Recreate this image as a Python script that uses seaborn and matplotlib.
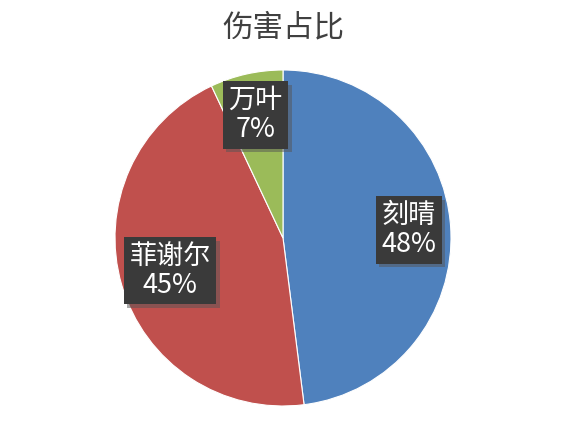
import matplotlib
matplotlib.use("Agg")
import matplotlib.pyplot as plt
import seaborn as sns
import matplotlib.patheffects as pe

names = ["刻晴", "菲谢尔", "万叶"]
shares = [48, 45, 7]
colors = ["#4f81bd", "#c0504d", "#9bbb59"]
label_dist = [0.75, 0.70, 0.75]
title = "伤害占比"

sns.set_theme(style="white")
plt.rcParams['font.family'] = ['Noto Sans CJK SC', 'DejaVu Sans']

W, H = 565, 423
fig = plt.figure(figsize=(W / 100, H / 100), dpi=100)
fig.patch.set_facecolor("white")
R = 168
cx, cy = 283, H - 238
ax = fig.add_axes([(cx - R) / W, (cy - R) / H, 2 * R / W, 2 * R / H])

base = 0.75
wedges, texts, autotexts = ax.pie(
    shares, colors=colors, startangle=90, counterclock=False,
    autopct="%1.0f%%", pctdistance=base, radius=1.0,
    wedgeprops=dict(edgecolor="white", linewidth=0.8),
)
for t, name, val, d in zip(autotexts, names, shares, label_dist):
    x, y = t.get_position()
    t.set_position((x * d / base, y * d / base))
    t.set_text(f"{name}\n{val}%")
    t.set_color("white")
    t.set_fontsize(19.5)
    t.set_ha("center")
    t.set_va("center")
    t.set_linespacing(1.12)
    t.set_bbox(dict(boxstyle="square,pad=0.2", facecolor="#3a3a3a",
                    edgecolor="none",
                    path_effects=[pe.withSimplePatchShadow(offset=(2.5, -2.5), shadow_rgbFace="#555555", alpha=0.5)]))
ax.set_xlim(-1, 1)
ax.set_ylim(-1, 1)
ax.set_aspect("equal")
ax.axis("off")

fig.text(cx / W, 1 - 28 / H, title, ha="center", va="center", fontsize=22, color="#404040")

fig.savefig("out.png", dpi=100, facecolor="white")
